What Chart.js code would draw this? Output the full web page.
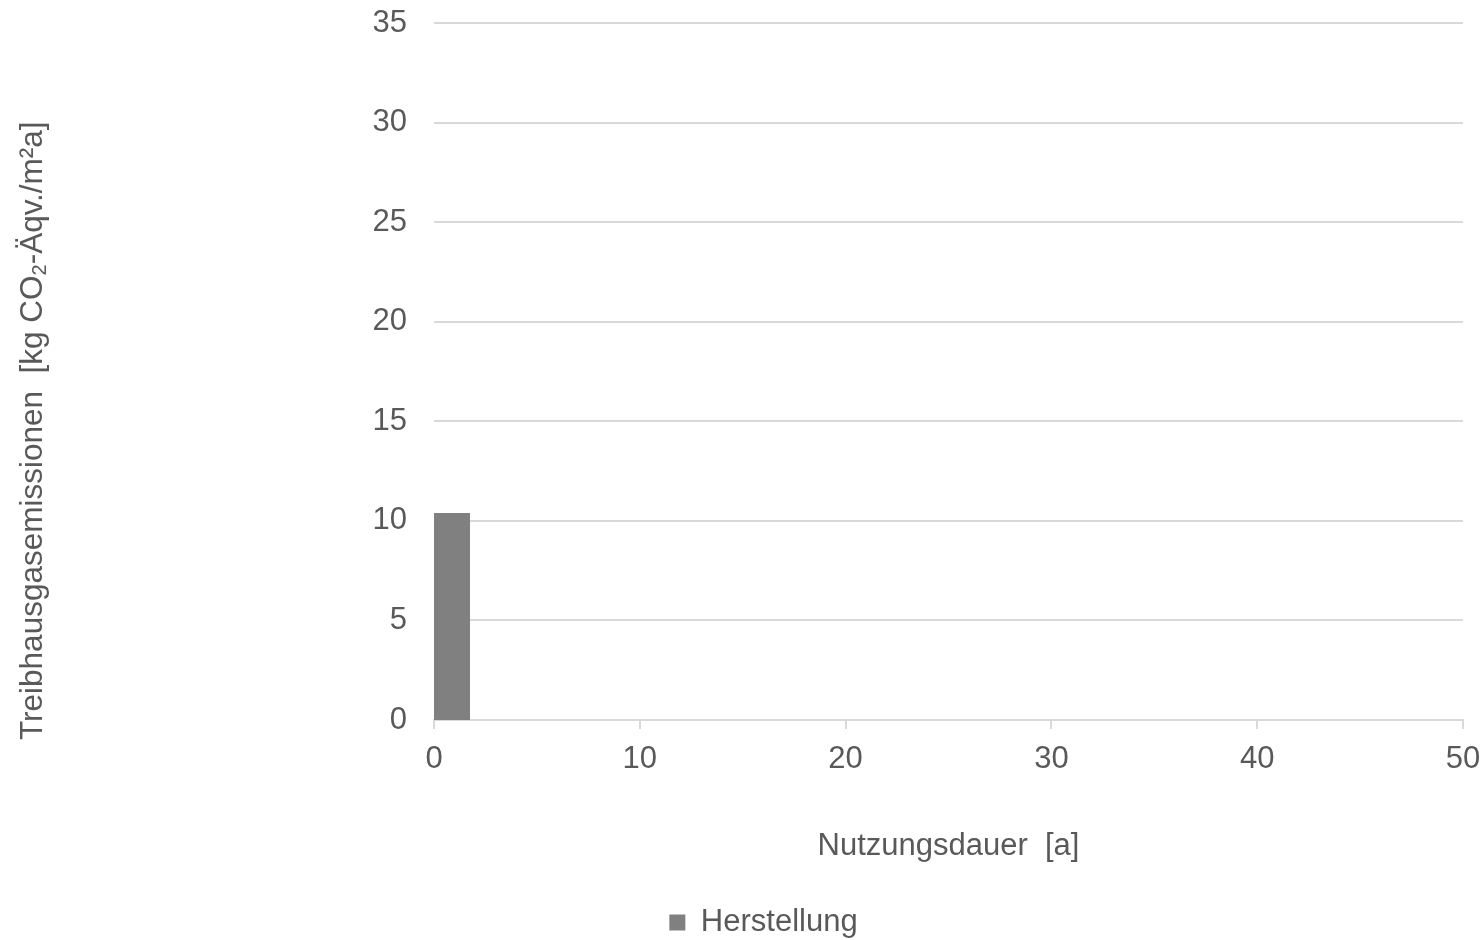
<!DOCTYPE html>
<html>
<head>
<meta charset="utf-8">
<script src="https://cdn.jsdelivr.net/npm/chart.js@4.4.1/dist/chart.umd.min.js"></script>
<style>
  html, body { margin: 0; padding: 0; background: #ffffff; }
  canvas { display: block; }
</style>
</head>
<body>
<canvas id="chart" width="1484" height="940"></canvas>
<script>
// Treibhausgasemissionen der Herstellung über die Nutzungsdauer
const seriesName = 'Herstellung';
const yearEdges = [0, 1.75];          // Säule: Beginn und Ende auf der Zeitachse [a]
const emissions = [10.4, 10.4];       // kg CO2-Äqv./m²a
const xTickValues = [0, 10, 20, 30, 40, 50];
const yTickValues = [0, 5, 10, 15, 20, 25, 30, 35];
const xTitle = 'Nutzungsdauer  [a]';
const yTitleParts = [
  ['Treibhausgasemissionen  [kg CO', false],
  ['2', true],
  ['-Äqv./m²a]', false]
];

const FONT = "'Liberation Sans', Arial, sans-serif";
const TEXT = '#595959';
const GRID = '#d9d9d9';
const BAR = '#808080';
const FONT_SIZE = 31;

Chart.defaults.font.family = FONT;
Chart.defaults.font.size = FONT_SIZE;
Chart.defaults.color = TEXT;

// Rotated axis title with a real subscript for CO2
const yAxisTitle = {
  id: 'yAxisTitle',
  afterDraw(chart, args, opts) {
    const { ctx, chartArea } = chart;
    ctx.save();
    ctx.translate(opts.x, chartArea.bottom + opts.offset);
    ctx.rotate(-Math.PI / 2);
    ctx.fillStyle = opts.color;
    ctx.textBaseline = 'middle';
    ctx.textAlign = 'left';
    let pos = 0;
    for (const [txt, sub] of yTitleParts) {
      ctx.font = (sub ? opts.subSize : opts.size) + 'px ' + FONT;
      ctx.fillText(txt, pos, sub ? opts.subShift : 0);
      pos += ctx.measureText(txt).width;
    }
    ctx.restore();
  }
};

new Chart(document.getElementById('chart'), {
  type: 'line',
  data: {
    datasets: [{
      label: seriesName,
      data: yearEdges.map((x, i) => ({ x, y: emissions[i] })),
      fill: 'origin',
      backgroundColor: BAR,
      borderColor: BAR,
      borderWidth: 0,
      pointRadius: 0,
      pointHoverRadius: 0,
      tension: 0
    }]
  },
  options: {
    responsive: false,
    animation: false,
    events: [],
    layout: { autoPadding: false, padding: { left: 64, right: 21, top: 23, bottom: -8 } },
    plugins: {
      tooltip: { enabled: false },
      legend: {
        position: 'bottom',
        labels: {
          boxWidth: 16,
          boxHeight: 16,
          padding: 0,
          color: TEXT,
          font: { size: FONT_SIZE },
          generateLabels: () => [{
            text: seriesName,
            fillStyle: BAR,
            strokeStyle: BAR,
            fontColor: TEXT,
            lineWidth: 0,
            hidden: false,
            datasetIndex: 0
          }]
        }
      },
      yAxisTitle: { x: 33, offset: 20, color: TEXT, size: 31.5, subSize: 20, subShift: 7 }
    },
    scales: {
      x: {
        type: 'linear',
        min: xTickValues[0],
        max: xTickValues[xTickValues.length - 1],
        z: 1,
        ticks: {
          stepSize: xTickValues[1] - xTickValues[0],
          padding: 12,
          maxRotation: 0,
          autoSkip: false,
          color: TEXT
        },
        grid: {
          drawOnChartArea: false,
          drawTicks: true,
          tickLength: 9,
          color: GRID,
          lineWidth: 2
        },
        border: { color: GRID, width: 2 },
        title: {
          display: true,
          text: xTitle,
          color: TEXT,
          padding: { top: 0, bottom: 42 }
        },
        afterFit: (scale) => {
          scale.height = 187;
          scale.paddingLeft = 0;
          scale.paddingRight = 0;
        }
      },
      y: {
        min: yTickValues[0],
        max: yTickValues[yTickValues.length - 1],
        ticks: {
          stepSize: yTickValues[1] - yTickValues[0],
          padding: 27,
          color: TEXT
        },
        grid: { drawTicks: false, color: GRID, lineWidth: 2 },
        border: { display: false },
        afterFit: (scale) => {
          scale.width = 370;
          scale.paddingTop = 0;
          scale.paddingBottom = 0;
        }
      }
    }
  },
  plugins: [yAxisTitle]
});
</script>
</body>
</html>
